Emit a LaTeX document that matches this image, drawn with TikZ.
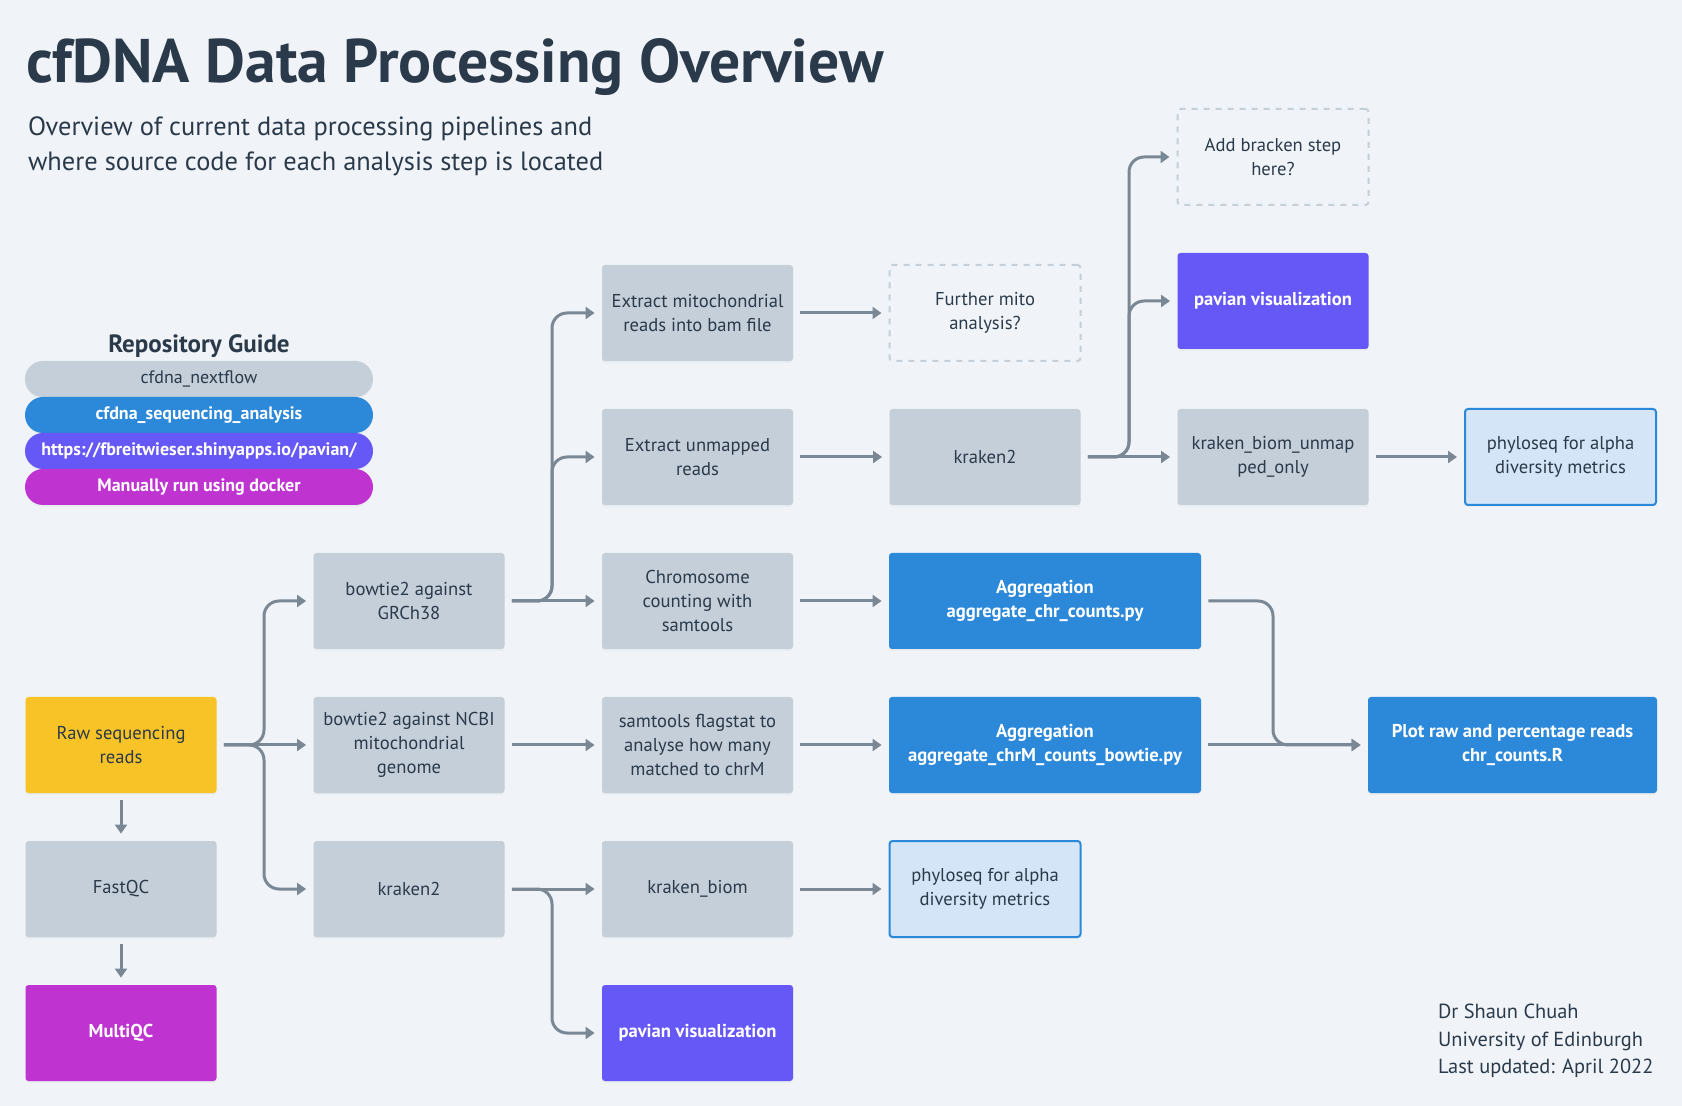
\documentclass[tikz,border=0pt]{standalone}
\usepackage{fontspec}
\setmainfont{PT Sans}
\usetikzlibrary{arrows.meta,shadows}
\definecolor{bgc}{HTML}{F0F4F8}
\definecolor{ink}{HTML}{2B3A4A}
\definecolor{boxgray}{HTML}{C4CFD9}
\definecolor{rawyellow}{HTML}{F8C326}
\definecolor{aggblue}{HTML}{2C88D9}
\definecolor{pavpurple}{HTML}{6658F6}
\definecolor{dockmag}{HTML}{BF33D1}
\definecolor{phylofill}{HTML}{D3E5F6}
\definecolor{arrowgray}{HTML}{7A8896}
\begin{document}
\begin{tikzpicture}[x=0.5pt, y=-0.5pt,
    box/.style={rectangle, rounded corners=1.5pt, minimum width=95.5pt, minimum height=48pt,
      align=center, text=ink, font=\fontsize{9.3}{12}\selectfont,
      drop shadow={opacity=0.08, shadow xshift=0pt, shadow yshift=-0.8pt}},
    greybox/.style={box, fill=boxgray},
    rawbox/.style={box, fill=rawyellow},
    aggbox/.style={box, fill=aggblue, text=white, font=\bfseries\fontsize{9.3}{12}\selectfont},
    pavbox/.style={box, fill=pavpurple, text=white, font=\bfseries\fontsize{9.3}{12}\selectfont},
    dockbox/.style={box, fill=dockmag, text=white, font=\bfseries\fontsize{9.3}{12}\selectfont},
    phylobox/.style={box, fill=phylofill, draw=aggblue, line width=1pt},
    ideabox/.style={rectangle, rounded corners=1.5pt, minimum width=95.5pt, minimum height=48pt,
      align=center, text=ink, font=\fontsize{9.3}{12}\selectfont,
      draw=boxgray, line width=1pt, dash pattern=on 3pt off 3pt},
    pill/.style={rectangle, rounded corners=9pt, minimum width=174pt, minimum height=18pt,
      font=\fontsize{9}{11}\selectfont, drop shadow={opacity=0.08, shadow xshift=0pt, shadow yshift=-0.8pt}},
    conn/.style={draw=arrowgray, line width=1.5pt, -{Triangle[length=4.5pt,width=6pt]},
      shorten <=3.5pt, shorten >=3.5pt, rounded corners=7.5pt}]

    \fill[bgc] (0,0) rectangle (1682,1106);
    \useasboundingbox (0,0) rectangle (1682,1106);

    \node[anchor=base west, text=ink, font=\bfseries\fontsize{30.8}{36}\selectfont] (title) at (19,83) {cfDNA Data Processing Overview};
    \node[anchor=base west, text=ink, font=\fontsize{13.2}{17}\selectfont] (subA) at (21,136) {Overview of current data processing pipelines and};
    \node[anchor=base west, text=ink, font=\fontsize{13.2}{17}\selectfont] (subB) at (21,171) {where source code for each analysis step is located};

    \node[anchor=base, text=ink, font=\bfseries\fontsize{12.5}{15}\selectfont] (guide) at (199,353) {Repository Guide};
    \node[pill, fill=boxgray, text=ink] (pillA) at (199,379) {cfdna\_nextflow};
    \node[pill, fill=aggblue, text=white, font=\bfseries\fontsize{9}{11}\selectfont] (pillB) at (199,415) {cfdna\_sequencing\_analysis};
    \node[pill, fill=pavpurple, text=white, font=\bfseries\fontsize{9}{11}\selectfont] (pillC) at (199,451) {https://fbreitwieser.shinyapps.io/pavian/};
    \node[pill, fill=dockmag, text=white, font=\bfseries\fontsize{9}{11}\selectfont] (pillD) at (199,487) {Manually run using docker};

    \node[rawbox] (raw) at (121,745) {Raw sequencing\\reads};
    \node[greybox] (fastqc) at (121,889) {FastQC};
    \node[dockbox] (multiqc) at (121,1033) {MultiQC};

    \node[greybox] (btgrch) at (409,601) {bowtie2 against\\GRCh38};
    \node[greybox] (btmito) at (409,745) {bowtie2 against NCBI\\mitochondrial\\genome};
    \node[greybox] (krakenA) at (409,889) {kraken2};

    \node[greybox] (exmito) at (697.5,313) {Extract mitochondrial\\reads into bam file};
    \node[greybox] (exunmap) at (697.5,457) {Extract unmapped\\reads};
    \node[greybox] (chrcount) at (697.5,601) {Chromosome\\counting with\\samtools};
    \node[greybox] (flagstat) at (697.5,745) {samtools flagstat to\\analyse how many\\matched to chrM};
    \node[greybox] (kbiom) at (697.5,889) {kraken\_biom};
    \node[pavbox] (pavianA) at (697.5,1033) {pavian visualization};

    \node[ideabox] (furthermito) at (985,313) {Further mito\\analysis?};
    \node[greybox] (krakenB) at (985,457) {kraken2};
    \node[aggbox, minimum width=156pt] (aggA) at (1045,601) {Aggregation\\aggregate\_chr\_counts.py};
    \node[aggbox, minimum width=156pt] (aggB) at (1045,745) {Aggregation\\aggregate\_chrM\_counts\_bowtie.py};
    \node[phylobox] (phyloA) at (985,889) {phyloseq for alpha\\diversity metrics};

    \node[ideabox] (bracken) at (1273,157) {Add bracken step\\here?};
    \node[pavbox] (pavianB) at (1273,301) {pavian visualization};
    \node[greybox] (kbunmap) at (1273,457) {kraken\_biom\_unmap\\ped\_only};

    \node[phylobox] (phyloB) at (1560.5,457) {phyloseq for alpha\\diversity metrics};
    \node[aggbox, minimum width=144.5pt] (plotR) at (1512.5,745) {Plot raw and percentage reads\\chr\_counts.R};

    \node[anchor=base west, text=ink, font=\fontsize{10.2}{14}\selectfont] (credA) at (1431,1018) {Dr Shaun Chuah};
    \node[anchor=base west, text=ink, font=\fontsize{10.2}{14}\selectfont] (credB) at (1431,1046) {University of Edinburgh};
    \node[anchor=base west, text=ink, font=\fontsize{10.2}{14}\selectfont] (credC) at (1431,1073) {Last updated: April 2022};

    \coordinate (forkraw) at (264,745);
    \coordinate (forkgrch) at (552,601);
    \coordinate (forkkrA) at (552,889);
    \coordinate (forkkrB) at (1129,457);
    \coordinate (forkagg) at (1273,601);

    \draw[conn] (raw) -- (fastqc);
    \draw[conn] (fastqc) -- (multiqc);
    \draw[conn] (raw.east) -- (forkraw) |- (btgrch.west);
    \draw[conn] (raw.east) -- (btmito.west);
    \draw[conn] (raw.east) -- (forkraw) |- (krakenA.west);

    \draw[conn] (btgrch.east) -- (forkgrch) |- (exmito.west);
    \draw[conn] (btgrch.east) -- (forkgrch) |- (exunmap.west);
    \draw[conn] (btgrch.east) -- (chrcount.west);
    \draw[conn] (btmito.east) -- (flagstat.west);
    \draw[conn] (krakenA.east) -- (kbiom.west);
    \draw[conn] (krakenA.east) -- (forkkrA) |- (pavianA.west);

    \draw[conn] (exmito.east) -- (furthermito.west);
    \draw[conn] (exunmap.east) -- (krakenB.west);
    \draw[conn] (chrcount.east) -- (aggA.west);
    \draw[conn] (flagstat.east) -- (aggB.west);
    \draw[conn] (kbiom.east) -- (phyloA.west);

    \draw[conn] (krakenB.east) -- (forkkrB) |- (bracken.west);
    \draw[conn] (krakenB.east) -- (forkkrB) |- (pavianB.west);
    \draw[conn] (krakenB.east) -- (kbunmap.west);
    \draw[conn] (kbunmap.east) -- (phyloB.west);

    \draw[conn] (aggA.east) -- (forkagg) |- (plotR.west);
    \draw[conn] (aggB.east) -- (plotR.west);
\end{tikzpicture}
\end{document}
